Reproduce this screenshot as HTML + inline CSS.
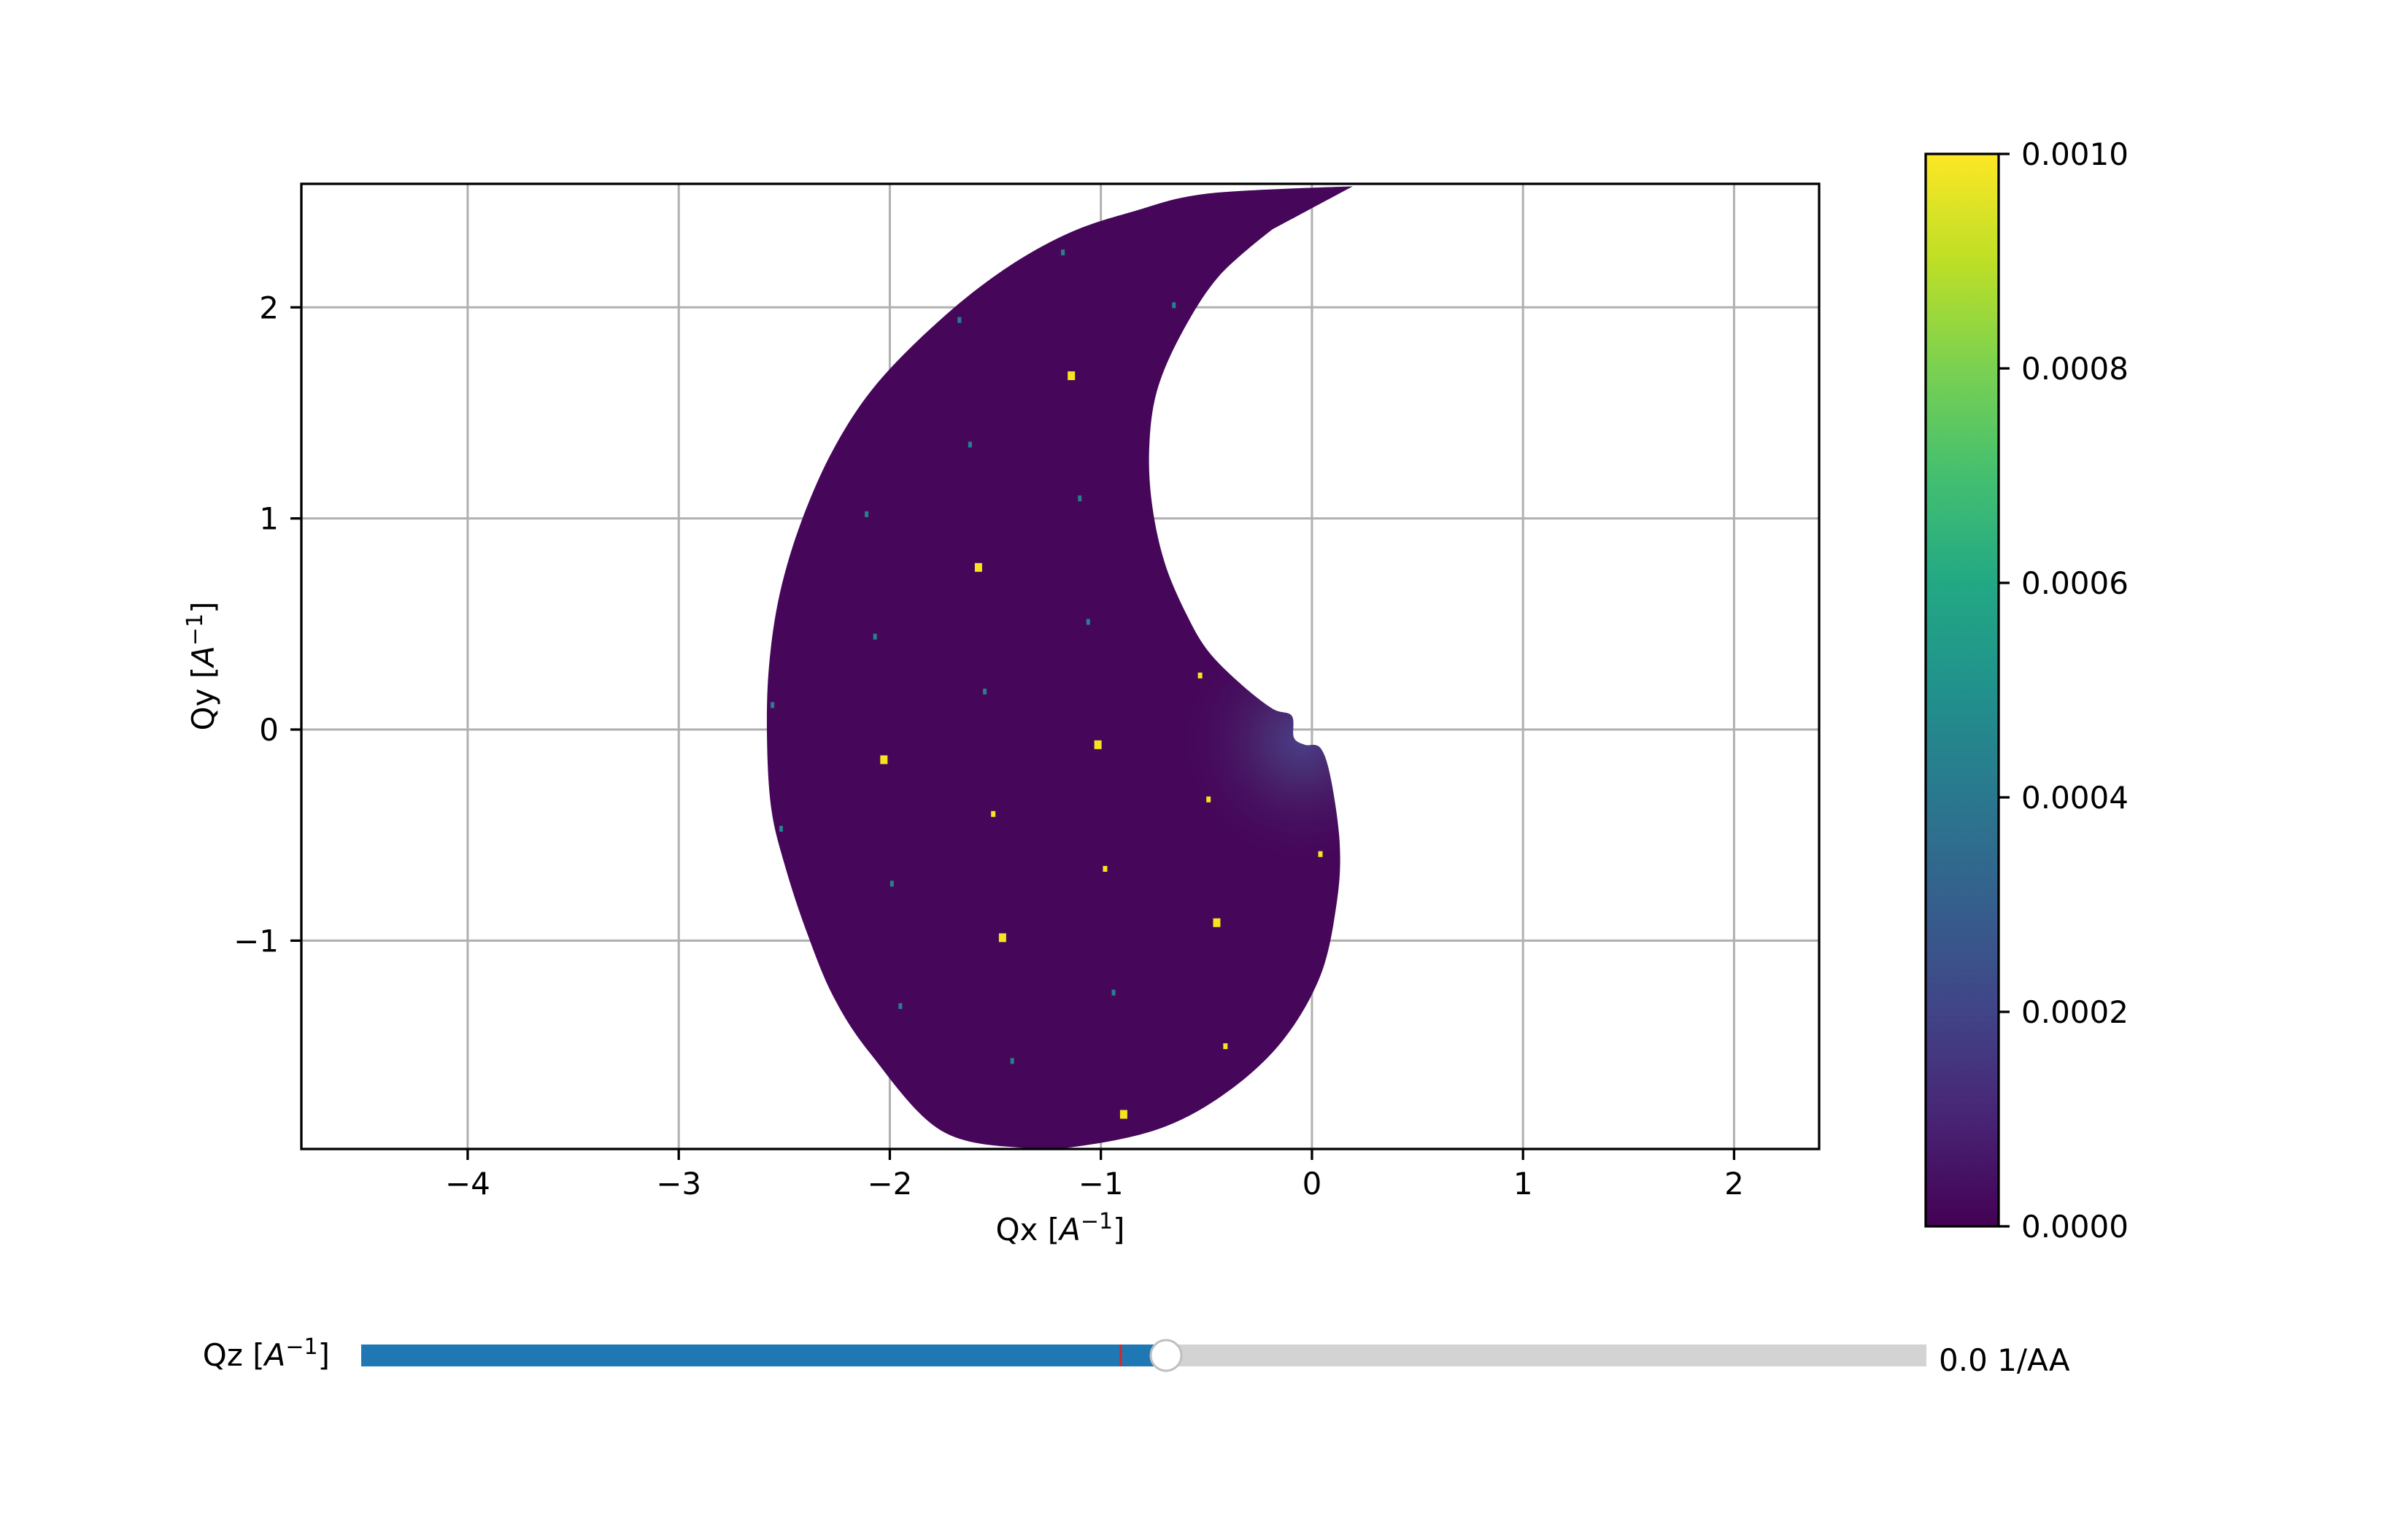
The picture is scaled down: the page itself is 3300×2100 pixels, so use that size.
<!DOCTYPE html>
<html><head><meta charset="utf-8"><style>
html,body{margin:0;padding:0;background:#fff;}
svg{display:block;font-family:"DejaVu Sans","Liberation Sans",sans-serif;}
</style></head><body>
<svg id="fig" width="3300" height="2100" viewBox="0 0 3300 2100" xmlns="http://www.w3.org/2000/svg">
<defs>
<clipPath id="axclip"><rect x="413" y="252" width="2080" height="1323"/></clipPath>
<radialGradient id="glow" cx="1785" cy="1015" r="170" gradientUnits="userSpaceOnUse">
<stop offset="0" stop-color="#4a3f88"/><stop offset="0.3" stop-color="#48296f"/><stop offset="1" stop-color="#46075a" stop-opacity="0"/>
</radialGradient>
<linearGradient id="viridis" x1="0" y1="1" x2="0" y2="0">
<stop offset="0" stop-color="#440154"/><stop offset="0.1" stop-color="#482475"/><stop offset="0.2" stop-color="#414487"/><stop offset="0.3" stop-color="#355f8d"/><stop offset="0.4" stop-color="#2a788e"/><stop offset="0.5" stop-color="#21918c"/><stop offset="0.6" stop-color="#22a884"/><stop offset="0.7" stop-color="#44bf70"/><stop offset="0.8" stop-color="#7ad151"/><stop offset="0.9" stop-color="#bddf26"/><stop offset="1" stop-color="#fde725"/>
</linearGradient>
</defs>
<g id="grid"></g>
<g id="plot" clip-path="url(#axclip)"></g>
<rect x="413" y="252" width="2080" height="1323" fill="none" stroke="#000" stroke-width="3.3"/>
<g id="ticks"></g>
<text x="1453" y="1700" font-size="42" text-anchor="middle">Qx [<tspan font-style="italic">A</tspan><tspan font-size="30" dy="-16">−1</tspan><tspan dy="16">]</tspan></text>
<text transform="translate(293,913) rotate(-90)" font-size="42" text-anchor="middle">Qy [<tspan font-style="italic">A</tspan><tspan font-size="30" dy="-16">−1</tspan><tspan dy="16">]</tspan></text>
<g id="cbar">
<rect x="2639" y="211" width="100" height="1470" fill="url(#viridis)" stroke="#000" stroke-width="3.3"/>
</g>
<g>
<text x="452" y="1872" font-size="42" text-anchor="end">Qz [<tspan font-style="italic">A</tspan><tspan font-size="30" dy="-16">−1</tspan><tspan dy="16">]</tspan></text>
<rect x="495" y="1843" width="2145" height="30" fill="#d3d3d3"/>
<rect x="495" y="1843" width="1103" height="30" fill="#1f77b4"/>
<line x1="1536" y1="1843" x2="1536" y2="1873" stroke="#d62728" stroke-width="3"/>
<circle cx="1598" cy="1858" r="21" fill="#fff" stroke="#bfbfbf" stroke-width="3"/>
<text x="2657" y="1879" font-size="42">0.0 1/AA</text>
</g>
</svg>
<script>
var xTicks=[-4,-3,-2,-1,0,1,2];
var yTicks=[-1,0,1,2];
var cbTicks=[0,0.0002,0.0004,0.0006,0.0008,0.001];
var cbLabels=["0.0000","0.0002","0.0004","0.0006","0.0008","0.0010"];
var outlineX=[0.193,-0.492,-0.847,-1.151,-1.456,-1.760,-2.064,-2.267,-2.419,-2.521,-2.572,-2.582,-2.561,-2.495,-2.394,-2.267,-2.089,-1.760,-1.354,-1.050,-0.695,-0.391,-0.137,0.041,0.117,0.132,0.091,0.041,-0.035,-0.086,-0.096,-0.188,-0.340,-0.492,-0.593,-0.695,-0.756,-0.771,-0.735,-0.619,-0.441,-0.188];
var outlineY=[2.573,2.539,2.454,2.352,2.181,1.942,1.635,1.328,0.986,0.645,0.304,-0.038,-0.379,-0.652,-0.959,-1.266,-1.539,-1.898,-1.983,-1.966,-1.881,-1.710,-1.471,-1.164,-0.823,-0.549,-0.242,-0.089,-0.072,-0.038,0.065,0.099,0.218,0.372,0.543,0.782,1.055,1.328,1.601,1.874,2.147,2.369];
var spotX=[-1.14,-1.58,-1.014,-2.028,-0.49,-1.466,-0.451,-0.892,0.04,-0.53,-0.98,-1.51,-0.41,-1.18,-0.654,-1.67,-1.62,-1.10,-2.11,-1.06,-2.07,-1.55,-2.556,-2.515,-1.99,-0.94,-1.95,-1.42];
var spotY=[1.676,0.768,-0.072,-0.143,-0.331,-0.986,-0.915,-1.823,-0.59,0.256,-0.66,-0.40,-1.50,2.26,2.01,1.94,1.35,1.095,1.02,0.51,0.44,0.18,0.116,-0.47,-0.73,-1.246,-1.31,-1.57];
var spotI=[1,1,1,1,0.8,1,1,1,0.8,0.8,0.7,0.7,0.8,0.5,0.5,0.5,0.5,0.5,0.5,0.5,0.5,0.5,0.5,0.5,0.5,0.5,0.5,0.5];
var NS="http://www.w3.org/2000/svg";
var X0=413,X1=2493,Y0=252,Y1=1575,xmin=-4.788,xmax=2.403,ymin=-1.987,ymax=2.585;
function sx(v){return X0+(v-xmin)/(xmax-xmin)*(X1-X0);}
function sy(v){return Y1-(v-ymin)/(ymax-ymin)*(Y1-Y0);}
function cy(v){return 1681-v/0.001*1470;}
function mk(t,a,p){var e=document.createElementNS(NS,t);for(var k in a)e.setAttribute(k,a[k]);p.appendChild(e);return e;}
var grid=document.getElementById('grid'),ticks=document.getElementById('ticks'),plot=document.getElementById('plot'),cbar=document.getElementById('cbar');
xTicks.forEach(function(v){
 var g=mk('line',{x1:sx(v),x2:sx(v),y1:Y0,y2:Y1,stroke:'#b0b0b0','stroke-width':3},grid);
 
 
 var t=mk('line',{x1:sx(v),x2:sx(v),y1:Y1,y2:Y1+15,stroke:'#000','stroke-width':3.3},ticks);
 
 
 var l=mk('text',{x:sx(v),y:1637,'font-size':42,'text-anchor':'middle'},ticks);
 l.textContent=(v<0?'\u2212'+(-v):''+v);
 
 
});
yTicks.forEach(function(v){
 var g=mk('line',{x1:X0,x2:X1,y1:sy(v),y2:sy(v),stroke:'#b0b0b0','stroke-width':3},grid);
 
 
 var t=mk('line',{x1:X0-15,x2:X0,y1:sy(v),y2:sy(v),stroke:'#000','stroke-width':3.3},ticks);
 
 
 var l=mk('text',{x:382,y:sy(v)+15,'font-size':42,'text-anchor':'end'},ticks);
 l.textContent=(v<0?'\u2212'+(-v):''+v);
 
 
});
var P=outlineX.map(function(v,i){return [sx(v),sy(outlineY[i])];});
var n=P.length, d='M'+P[0][0].toFixed(1)+','+P[0][1].toFixed(1);
for(var i=0;i<n;i++){
 var p0=P[(i-1+n)%n],p1=P[i],p2=P[(i+1)%n],p3=P[(i+2)%n];
 var k=(i===n-1||i===0)?0:1/6;
 var c1=[p1[0]+(p2[0]-p0[0])*k,p1[1]+(p2[1]-p0[1])*k];
 var k2=((i+1)%n===0||(i+1)%n===n-1)?0:1/6;
 var c2=[p2[0]-(p3[0]-p1[0])*k2,p2[1]-(p3[1]-p1[1])*k2];
 d+='C'+c1[0].toFixed(1)+','+c1[1].toFixed(1)+' '+c2[0].toFixed(1)+','+c2[1].toFixed(1)+' '+p2[0].toFixed(1)+','+p2[1].toFixed(1);
}
d+='Z';
var blob=mk('path',{d:d,fill:'#46075a'},plot);


var glow=mk('path',{d:d,fill:'url(#glow)'},plot);


for(var j=0;j<spotX.length;j++){
 var big=spotI[j]>0.9, mid=spotI[j]>0.6;
 var w=big?10:(mid?6:5), h=big?12:8;
 var s=mk('rect',{x:sx(spotX[j])-w/2,y:sy(spotY[j])-h/2,width:w,height:h,fill:mid?'#f3e51e':'#27808e'},plot);
 
 
}
cbTicks.forEach(function(v,i){
 var t=mk('line',{x1:2739,x2:2754,y1:cy(v),y2:cy(v),stroke:'#000','stroke-width':3.3},cbar);
 
 
 var l=mk('text',{x:2770,y:cy(v)+15,'font-size':42},cbar);
 l.textContent=cbLabels[i];
 
 
});
</script>
</body></html>
